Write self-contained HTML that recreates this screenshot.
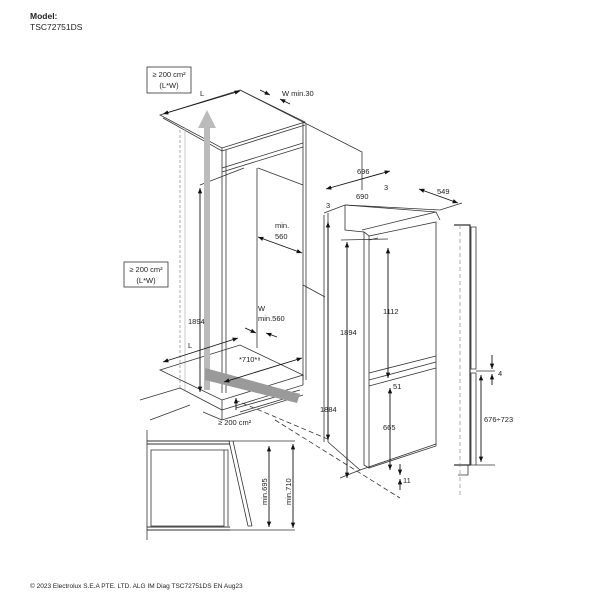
<!DOCTYPE html>
<html><head><meta charset="utf-8"><style>
html,body{margin:0;padding:0;background:#fff;width:600px;height:600px;overflow:hidden}
svg{display:block}
text{font-family:"Liberation Sans",sans-serif;fill:#222}
</style></head><body>
<svg width="600" height="600" viewBox="0 0 600 600" xmlns="http://www.w3.org/2000/svg">
<defs>
<marker id="a" viewBox="0 0 10 10" refX="10" refY="5" markerWidth="6" markerHeight="6" orient="auto-start-reverse"><path d="M0,1 L10,5 L0,9 z" fill="#111"/></marker>
</defs>
<text x="30" y="19" font-size="8.5" font-weight="bold">Model:</text>
<text x="30" y="30" font-size="8.5">TSC72751DS</text>

<g fill="none" stroke="#333" stroke-width="0.8">
<rect x="147" y="67" width="44" height="26"/>
<rect x="124" y="262" width="44" height="25"/>
<path d="M160,115 L240,90 L305,122 L222,148 Z"/>
<path d="M163,118 L222,151 L305,125"/>
<path d="M240,90 L362,152 L362,190"/>
<path d="M222,148 L222,393 M226,150 L226,393"/>
<path d="M303,122 L303,380 M306,124 L306,380"/>
<path d="M222,168 L303,143 M222,172 L303,147"/>
<path d="M257,168 L257,348"/>
<path d="M200,185 L244,168 M258,168 L303,185"/>
<path d="M180,130 L180,390" stroke-dasharray="3,2" stroke="#999"/>
<path d="M185,128 L185,390" stroke="#bbb"/>
<path d="M160,370 L240,345 L303,375 L222,400 Z"/>
<path d="M222,400 L222,410 L303,385 L303,375"/>
<path d="M140,400 L180,388 M180,388 L222,410 L222,420 L303,395"/>
<path d="M236,408 L300,390 M240,412 L300,394"/>
<path d="M222,420 L203,412 M190,405 L150,420"/>
<path d="M303,285 L325,297"/>
<path d="M235,400 L330,440" stroke-dasharray="5,3"/>
<path d="M275,420 L400,498" stroke-dasharray="5,3"/>
<path d="M324,215 L324,442 M328,213 L328,442"/>
<path d="M324,213 L345,205 L440,210 L462,203"/>
<path d="M345,205 L345,230 L364,232"/>
<path d="M364,232 L364,465 L369,468 L369,236 Z"/>
<path d="M369,236 L436,222 L436,446 L369,468"/>
<path d="M362,230 L436,212 L440,220 M345,205 L436,212"/>
<path d="M369,373 L436,356 M369,380 L436,362 M369,386 L436,368"/>
<path d="M369,240 L378,238 M360,470 L436,444"/>
<path d="M328,442 L360,470 L340,478"/>
<path d="M341,240 L388,239"/>
<path d="M454,225 L470,225 L470,465 L454,465" stroke-width="1.2"/>
<path d="M471,227 L476,227 L476,369 L471,369 Z M471,373 L476,373 L476,465 L471,465 Z"/>
<path d="M460,225 L460,495" stroke-dasharray="4,3" stroke="#999"/>
<path d="M458,465 L468,465 L468,475 L458,475"/>
<path d="M476,371 L495,371 M476,465 L495,465"/>
<!-- section -->
<path d="M147,430 L147,540"/>
<path d="M147,441 L230,441 M147,444 L230,444 M147,527 L230,527 M147,530 L230,530" stroke-width="1"/>
<path d="M151,450 L224,450 L224,526 L151,526 Z M224,450 L228,450 L228,526"/>
<path d="M230,441 L295,441 M230,530 L295,530"/>
<path d="M229,441 L248,526 M233,441 L252,526 M248,526 L252,526"/>
</g>
<path d="M204,390 L204,128 L198,128 L207,110 L216,128 L210,128 L210,390 Z" fill="#bbb"/>
<path d="M205,368 L300,394 L297,403 L205,380 Z" fill="#9a9a9a"/>
<g stroke="#111" stroke-width="0.9" fill="none" marker-start="url(#a)" marker-end="url(#a)">
<line x1="163" y1="114" x2="240" y2="91"/>
<line x1="163" y1="362" x2="238" y2="338"/>
<line x1="200" y1="188" x2="200" y2="392"/>
<line x1="258" y1="237" x2="302" y2="253"/>
<line x1="224" y1="382" x2="302" y2="358"/>
<line x1="326" y1="189" x2="390" y2="171"/>
<line x1="419" y1="189" x2="458" y2="203"/>
<line x1="328" y1="222" x2="328" y2="440"/>
<line x1="347" y1="242" x2="347" y2="478"/>
<line x1="388" y1="248" x2="388" y2="378"/>
<line x1="390" y1="388" x2="390" y2="470"/>
<line x1="481" y1="375" x2="481" y2="462"/>
<line x1="269" y1="446" x2="269" y2="527"/>
<line x1="293" y1="444" x2="293" y2="528"/>
</g>
<g stroke="#111" stroke-width="0.9" fill="none" marker-end="url(#a)">
<line x1="260" y1="90" x2="270" y2="95"/><line x1="290" y1="104" x2="280" y2="99"/>
<line x1="245" y1="328" x2="256" y2="333"/><line x1="277" y1="337" x2="266" y2="333"/>
<line x1="236" y1="410" x2="236" y2="398"/>
<line x1="492" y1="355" x2="492" y2="369"/><line x1="492" y1="385" x2="492" y2="374"/>
<line x1="400" y1="464" x2="400" y2="475"/><line x1="400" y1="490" x2="400" y2="479"/>
</g>
<g font-size="7.5">
<text x="169" y="77" text-anchor="middle">≥ 200 cm²</text>
<text x="169" y="88" text-anchor="middle">(L*W)</text>
<text x="146" y="272" text-anchor="middle">≥ 200 cm²</text>
<text x="146" y="283" text-anchor="middle">(L*W)</text>
<text x="200" y="96">L</text>
<text x="282" y="96">W min.30</text>
<text x="275" y="228">min.</text>
<text x="275" y="239">560</text>
<text x="258" y="311">W</text>
<text x="258" y="321">min.560</text>
<text x="188" y="348">L</text>
<text x="188" y="324">1894</text>
<text x="239" y="362">*710*⁸</text>
<text x="218" y="425">≥ 200 cm²</text>
<text x="357" y="174">696</text>
<text x="356" y="199">690</text>
<text x="384" y="190">3</text>
<text x="326" y="208">3</text>
<text x="437" y="194">549</text>
<text x="340" y="335">1894</text>
<text x="383" y="314">1112</text>
<text x="393" y="389">51</text>
<text x="383" y="430">665</text>
<text x="320" y="412">1884</text>
<text x="403" y="483">11</text>
<text x="498" y="376">4</text>
<text x="484" y="422">676÷723</text>
<text transform="translate(267,505) rotate(-90)">min.695</text>
<text transform="translate(291,505) rotate(-90)">min.710</text>
</g>
<text x="30" y="588" font-size="6.5" fill="#666">© 2023 Electrolux S.E.A PTE. LTD. ALG IM Diag TSC72751DS EN Aug23</text>
</svg>
</body></html>
